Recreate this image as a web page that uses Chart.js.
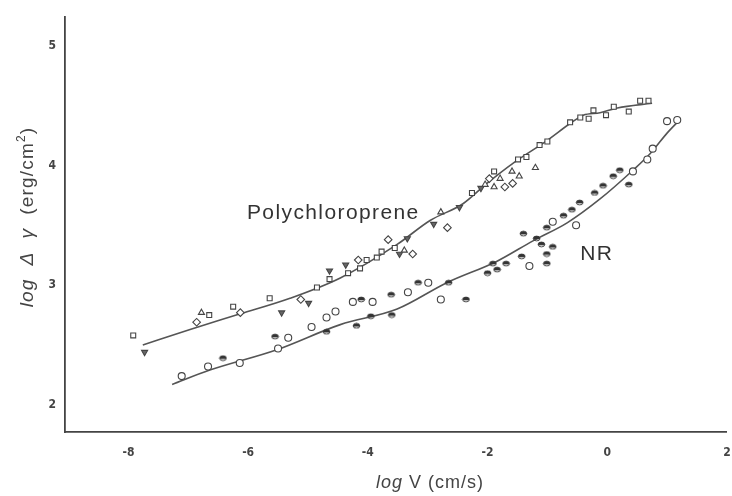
<!DOCTYPE html>
<html><head><meta charset="utf-8">
<script src="https://cdn.jsdelivr.net/npm/chart.js@4/dist/chart.umd.min.js"></script>
<style>html,body{margin:0;padding:0;background:#fff}#wrap{width:732px;height:496px}</style>
</head><body><div id="wrap"><canvas id="c"></canvas></div>
<script>
// ---- data (log V, log Δγ) ----
const xTicks = [-8, -6, -4, -2, 0, 2];
const yTicks = [2, 3, 4, 5];

const polyCurveX = [-7.76, -6.97, -6.13, -5.30, -4.46, -3.51, -2.96, -2.41, -2.01, -1.57, -1.00, -0.62, -0.40, -0.12, 0.17, 0.75];
const polyCurveY = [2.50, 2.63, 2.76, 2.89, 3.06, 3.34, 3.54, 3.68, 3.85, 4.02, 4.21, 4.35, 4.42, 4.44, 4.48, 4.52];
const nrCurveX = [-7.27, -6.64, -5.52, -4.46, -3.51, -2.68, -1.84, -1.24, -0.67, -0.12, 0.43, 0.72, 1.00, 1.17];
const nrCurveY = [2.17, 2.29, 2.46, 2.67, 2.80, 3.02, 3.20, 3.37, 3.52, 3.72, 3.96, 4.10, 4.27, 4.36];

const polySquareX = [-7.92, -6.65, -6.25, -5.64, -4.85, -4.64, -4.33, -4.13, -4.02, -3.85, -3.77, -3.55, -2.26, -1.89, -1.49, -1.35, -1.13, -1.00, -0.62, -0.45, -0.31, -0.23, -0.02, 0.11, 0.36, 0.55, 0.69];
const polySquareY = [2.58, 2.75, 2.82, 2.89, 2.98, 3.05, 3.10, 3.14, 3.21, 3.23, 3.28, 3.31, 3.77, 3.95, 4.05, 4.07, 4.17, 4.20, 4.36, 4.40, 4.39, 4.46, 4.42, 4.49, 4.45, 4.54, 4.54];
const polyTriX = [-6.78, -3.39, -2.78, -2.04, -1.89, -1.79, -1.59, -1.47, -1.20];
const polyTriY = [2.77, 3.29, 3.61, 3.84, 3.82, 3.89, 3.95, 3.91, 3.98];
const polyDownTriX = [-7.73, -5.44, -4.99, -4.64, -4.37, -3.47, -3.34, -2.90, -2.47, -2.11];
const polyDownTriY = [2.44, 2.77, 2.85, 3.12, 3.17, 3.26, 3.39, 3.51, 3.65, 3.81];
const polyDiamondX = [-6.86, -6.13, -5.12, -4.16, -3.66, -3.25, -2.67, -1.97, -1.71, -1.58];
const polyDiamondY = [2.69, 2.77, 2.88, 3.21, 3.38, 3.26, 3.48, 3.89, 3.82, 3.85];

const nrCircleX = [-7.11, -6.67, -6.14, -5.50, -5.33, -4.94, -4.69, -4.54, -4.25, -3.92, -3.33, -2.99, -2.78, -1.30, -0.91, -0.52, 0.43, 0.67, 0.76, 1.00, 1.17];
const nrCircleY = [2.24, 2.32, 2.35, 2.47, 2.56, 2.65, 2.73, 2.78, 2.86, 2.86, 2.94, 3.02, 2.88, 3.16, 3.53, 3.50, 3.95, 4.05, 4.14, 4.37, 4.38];
const nrHalfX = [-6.42, -5.55, -4.69, -4.19, -4.11, -3.95, -3.60, -3.61, -3.16, -2.65, -2.36, -2.00, -1.84, -1.91, -1.69, -1.43, -1.01, -1.01, -1.10, -0.91, -1.18, -1.40, -1.01, -0.73, -0.59, -0.46, -0.21, -0.07, 0.10, 0.21, 0.36];
const nrHalfY = [2.39, 2.57, 2.61, 2.66, 2.88, 2.74, 2.75, 2.92, 3.02, 3.02, 2.88, 3.10, 3.13, 3.18, 3.18, 3.24, 3.18, 3.26, 3.34, 3.32, 3.39, 3.43, 3.48, 3.58, 3.63, 3.69, 3.77, 3.83, 3.91, 3.96, 3.84];

const curveLabels = ["Polychloroprene", "NR"];
const curveLabelX = [-6.02, -0.45];
const curveLabelY = [3.60, 3.26];

// ---- helpers ----
const pts = (xs, ys) => xs.map((x, i) => ({x, y: ys[i]}));
const INK = '#444';

function halfMarker() {
  const c = document.createElement('canvas');
  c.width = 9; c.height = 7;
  const g = c.getContext('2d');
  g.strokeStyle = '#444'; g.lineWidth = 1;
  g.beginPath(); g.ellipse(4.5, 3.5, 3.3, 2.4, 0, 0, Math.PI * 2); g.stroke();
  g.fillStyle = '#333';
  g.beginPath(); g.ellipse(4.5, 3.5, 3.3, 2.4, 0, Math.PI, Math.PI * 2); g.closePath(); g.fill();
  g.fillRect(1.2, 3, 6.6, 1.3);
  return c;
}
const halfImg = halfMarker();

function markerDs(label, data, style, r, extra) {
  return Object.assign({
    label, data, showLine: false, pointStyle: style, pointRadius: r,
    pointBorderColor: INK, pointBackgroundColor: '#fff', pointBorderWidth: 1.1, order: 1
  }, extra || {});
}

const F = '"Liberation Sans", Arial, sans-serif';
const annot = {
  id: 'annot',
  afterDraw(chart) {
    const ctx = chart.ctx, xs = chart.scales.x, ys = chart.scales.y;
    ctx.save();
    ctx.fillStyle = '#333';
    ctx.textBaseline = 'middle';
    ctx.textAlign = 'left';
    ctx.font = '21px ' + F;
    ctx.letterSpacing = '1.4px';
    curveLabels.forEach((t, i) => {
      ctx.fillText(t, xs.getPixelForValue(curveLabelX[i]), ys.getPixelForValue(curveLabelY[i]));
    });
    // x axis title
    ctx.letterSpacing = '1px';
    const parts = [['italic 18px ' + F, 'log'], ['18px ' + F, ' V (cm/s)']];
    let w = 0;
    parts.forEach(p => { ctx.font = p[0]; w += ctx.measureText(p[1]).width; });
    let x0 = 430 - w / 2;
    ctx.fillStyle = '#444';
    parts.forEach(p => { ctx.font = p[0]; ctx.fillText(p[1], x0, 483); x0 += ctx.measureText(p[1]).width; });
    // y axis title
    ctx.translate(28, 217);
    ctx.rotate(-Math.PI / 2);
    ctx.letterSpacing = '1.2px';
    const yp = [['italic 19px ' + F, 'log'],
                ['19px ' + F, '  '],
                ['italic 19px ' + F, 'Δ  γ'],
                ['19px ' + F, '  (erg/cm'],
                ['12px ' + F, '2', -6],
                ['19px ' + F, ')']];
    w = 0;
    yp.forEach(p => { ctx.font = p[0]; w += ctx.measureText(p[1]).width; });
    x0 = -w / 2;
    yp.forEach(p => { ctx.font = p[0]; ctx.fillText(p[1], x0, p[2] || 0); x0 += ctx.measureText(p[1]).width; });
    ctx.restore();
  }
};

const tickFont = {family: '"Liberation Sans Narrow", "DejaVu Sans Condensed", sans-serif', size: 12, weight: 'bold'};

new Chart(document.getElementById('c'), {
  type: 'scatter',
  data: {
    datasets: [
      {label: 'Polychloroprene fit', data: pts(polyCurveX, polyCurveY), showLine: true, borderColor: '#555', borderWidth: 1.6, pointRadius: 0, tension: 0.4, cubicInterpolationMode: 'monotone', order: 2},
      {label: 'NR fit', data: pts(nrCurveX, nrCurveY), showLine: true, borderColor: '#555', borderWidth: 1.6, pointRadius: 0, tension: 0.4, cubicInterpolationMode: 'monotone', order: 2},
      markerDs('Polychloroprene □', pts(polySquareX, polySquareY), 'rect', 3.5),
      markerDs('Polychloroprene △', pts(polyTriX, polyTriY), 'triangle', 3.5),
      markerDs('Polychloroprene ▽', pts(polyDownTriX, polyDownTriY), 'triangle', 3.5, {rotation: 180, pointBackgroundColor: '#666'}),
      markerDs('Polychloroprene ◇', pts(polyDiamondX, polyDiamondY), 'rectRot', 3.8),
      markerDs('NR ○', pts(nrCircleX, nrCircleY), 'circle', 3.5),
      markerDs('NR ◒', pts(nrHalfX, nrHalfY), halfImg, 4)
    ]
  },
  options: {
    responsive: true, maintainAspectRatio: false, animation: false,
    layout: {padding: {left: 0, right: 5, top: 17, bottom: 0}},
    plugins: {legend: {display: false}, tooltip: {enabled: false}},
    scales: {
      x: {
        type: 'linear', min: -9.06, max: 2.0,
        afterBuildTicks: s => { s.ticks = xTicks.map(v => ({value: v})); },
        afterFit: s => { s.height = 64; s.paddingRight = 0; s.paddingLeft = 0; },
        border: {color: '#444', width: 1.8},
        grid: {display: false, drawOnChartArea: false, drawTicks: true, tickLength: 4, color: '#444'},
        ticks: {color: '#444', padding: 10, font: tickFont, callback: v => String(v), maxRotation: 0}
      },
      y: {
        type: 'linear', min: 1.773, max: 5.24,
        afterBuildTicks: s => { s.ticks = yTicks.map(v => ({value: v})); },
        afterFit: s => { s.width = 65; s.paddingTop = 0; s.paddingBottom = 0; },
        border: {color: '#444', width: 1.8},
        grid: {display: false, drawOnChartArea: false, drawTicks: true, tickLength: 4, color: '#444'},
        ticks: {color: '#444', padding: 5, font: tickFont, callback: v => String(v)}
      }
    }
  },
  plugins: [annot]
});
</script></body></html>
